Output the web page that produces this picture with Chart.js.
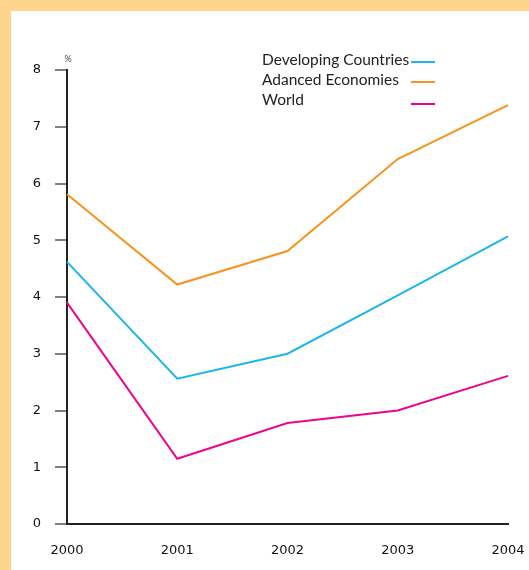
<!DOCTYPE html>
<html>
<head>
<meta charset="utf-8">
<script src="https://cdn.jsdelivr.net/npm/chart.js@4"></script>
<style>
  html, body { margin: 0; padding: 0; background: #FFD58C; }
  .chart { position: absolute; left: 11px; top: 11px; width: 518px; height: 559px; background: #fff; }
</style>
</head>
<body>
<div class="chart">
    <canvas id="growthChart" width="518" height="559"></canvas>
</div>

<script>
    const years = ['2000', '2001', '2002', '2003', '2004'];
    const developing = [4.62, 2.56, 3.0, 4.03, 5.07];
    const advanced = [5.81, 4.22, 4.81, 6.43, 7.38];
    const world = [3.9, 1.15, 1.78, 2.0, 2.61];
    const seriesNames = ['Developing Countries', 'Adanced Economies', 'World'];
    const seriesColors = ['#1CB5EC', '#F7941D', '#EC068D'];

    // legend: text first, then a short line sample on the right
    const sideLegend = {
        id: 'sideLegend',
        afterDraw(chart) {
            const ctx = chart.ctx;
            ctx.save();
            ctx.font = '15.5px Lato';
            ctx.fillStyle = '#222';
            ctx.textBaseline = 'alphabetic';
            const baselines = [54, 74, 94];
            const lineY = [51, 71, 93];
            chart.data.datasets.forEach((ds, i) => {
                ctx.fillText(ds.label, 251, baselines[i]);
                ctx.strokeStyle = ds.borderColor;
                ctx.lineWidth = 2;
                ctx.beginPath();
                ctx.moveTo(400, lineY[i]);
                ctx.lineTo(424, lineY[i]);
                ctx.stroke();
            });
            // unit mark above the y axis
            const area = chart.chartArea;
            ctx.font = '9px Lato';
            ctx.fillStyle = '#444';
            ctx.textAlign = 'center';
            ctx.fillText('%', area.left + 1, area.top - 8);
            ctx.restore();
        }
    };

    const tickFont = { family: 'DejaVu Sans', size: 13 };

    const ctx = document.getElementById('growthChart').getContext('2d');
    const chart = new Chart(ctx, {
        type: 'line',
        data: {
            labels: years,
            datasets: [developing, advanced, world].map((values, i) => ({
                label: seriesNames[i],
                data: values,
                borderColor: seriesColors[i],
                backgroundColor: seriesColors[i],
                borderWidth: 2,
                pointRadius: 0,
                tension: 0
            }))
        },
        options: {
            responsive: false,
            animation: false,
            layout: { padding: { top: 59, right: 21, left: 0, bottom: 0 } },
            plugins: {
                legend: { display: false },
                tooltip: { enabled: false }
            },
            scales: {
                x: {
                    offset: false,
                    afterFit: s => { s.height = 46; s.paddingLeft = 0; s.paddingRight = 0; },
                    grid: { drawOnChartArea: false, drawTicks: false },
                    border: { color: '#222', width: 2 },
                    ticks: {
                        padding: 19,
                        color: '#111',
                        maxRotation: 0,
                        font: tickFont
                    }
                },
                y: {
                    min: 0,
                    max: 8,
                    afterFit: s => { s.width = 56; s.paddingTop = 0; s.paddingBottom = 0; },
                    grid: { drawOnChartArea: false, drawTicks: true, tickLength: 12, color: '#808080', lineWidth: 2 },
                    border: { color: '#222', width: 2 },
                    ticks: {
                        stepSize: 1,
                        padding: 14,
                        color: '#111',
                        font: tickFont
                    }
                }
            }
        },
        plugins: [sideLegend]
    });
</script>
</body>
</html>
